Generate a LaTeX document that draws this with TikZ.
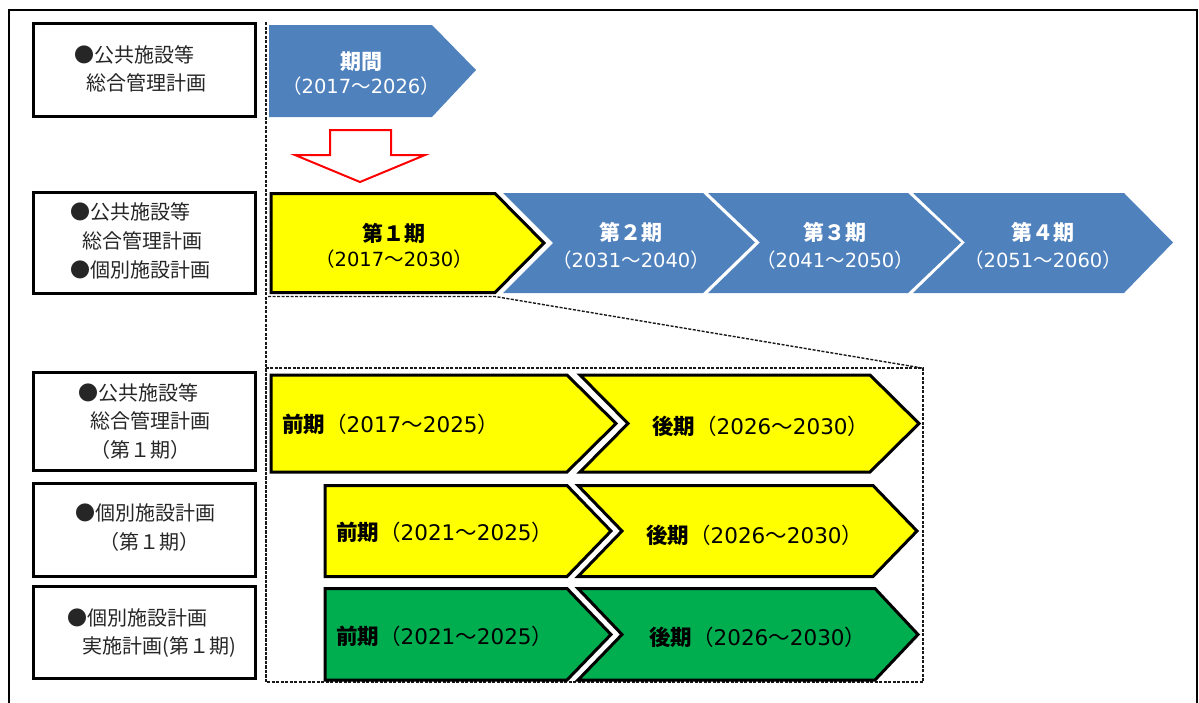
\documentclass[tikz,border=0pt]{standalone}
\usepackage{fontspec}
\newfontfamily\jp{Noto Sans CJK JP}
\newfontfamily\dv{DejaVu Sans}
\newcommand\yrs[2]{{\jp （}{\dv #1}{\jp ～}{\dv #2}{\jp ）}}
\definecolor{ablue}{HTML}{4F81BD}
\definecolor{ayellow}{HTML}{FFFF00}
\definecolor{agreen}{HTML}{00AE50}
\tikzset{
  labelbox/.style={draw=black, line width=3pt, fill=white, minimum width=222pt, inner sep=0pt},
  boxtxt/.style={font=\jp\fontsize{20}{24}\selectfont, text=black!85, inner sep=0pt},
  bluefill/.style={fill=ablue, draw=none},
  yelshape/.style={fill=ayellow, draw=black, line width=3pt, line join=miter},
  grnshape/.style={fill=agreen, draw=black, line width=3pt, line join=miter},
  ttl/.style={font=\jp\bfseries\fontsize{21}{24}\selectfont, inner sep=0pt},
  yr/.style={font=\fontsize{19.5}{24}\selectfont, inner sep=0pt},
  rowtxt/.style={font=\fontsize{21.5}{24}\selectfont, inner sep=0pt, anchor=west},
  dashline/.style={draw=black!90, line width=1.4pt, dash pattern=on 3pt off 1.5pt},
}
\begin{document}
\begin{tikzpicture}[x=1pt,y=-1pt]
\useasboundingbox (0,0) rectangle (1199,702);
% outer frame
\draw[line width=2.5pt] (9,706) -- (9,10) -- (1197,10) -- (1197,706);

% label boxes
\node[labelbox, minimum height=93pt] (b1) at (144.5,70) {};
\node[labelbox, minimum height=101pt] (b2) at (144.5,243) {};
\node[labelbox, minimum height=98pt] (b3) at (144.5,421.5) {};
\node[labelbox, minimum height=93pt] (b4) at (144.5,530) {};
\node[labelbox, minimum height=92pt] (b5) at (144.5,632.5) {};

\node[boxtxt] (b1a) at (134,55) {●公共施設等};
\node[boxtxt] (b1b) at (146,83) {総合管理計画};
\node[boxtxt] (b2a) at (130,212) {●公共施設等};
\node[boxtxt] (b2b) at (142,241) {総合管理計画};
\node[boxtxt] (b2c) at (140,270) {●個別施設計画};
\node[boxtxt] (b3a) at (138,393) {●公共施設等};
\node[boxtxt] (b3b) at (150,421) {総合管理計画};
\node[boxtxt] (b3c) at (140,450) {（第１期）};
\node[boxtxt] (b4a) at (145,513) {●個別施設計画};
\node[boxtxt] (b4b) at (149,542) {（第１期）};
\node[boxtxt] (b5a) at (137,618) {●個別施設計画};
\node[boxtxt] (b5b) at (159,647) {実施計画(第１期)};

% dashed guide lines
\draw[dashline] (266,22) -- (266,682);
\draw[dashline] (268,296.5) -- (495,296.5) -- (922,368);
\draw[dashline] (266,368) rectangle (923,682);

% top period arrow
\fill[bluefill] (269,25) -- (432,25) -- (476,70) -- (432,117) -- (269,117) -- cycle;
\node[ttl, text=white] (p0a) at (361,62) {期間};
\node[yr, text=white] (p0b) at (361,86) {\yrs{2017}{2026}};

% red down arrow
\draw[draw=red, line width=2pt, fill=white, line join=miter]
  (330,130) -- (391,130) -- (391,155) -- (425,155) -- (360,182) -- (295,155) -- (330,155) -- cycle;

% second row
\fill[bluefill] (503,193) -- (703,193) -- (755,242.5) -- (703,293) -- (503,293) -- (553,243) -- cycle;
\fill[bluefill] (708,193) -- (908,193) -- (961,242.5) -- (908,293) -- (708,293) -- (760,242.5) -- cycle;
\fill[bluefill] (913,193) -- (1124,193) -- (1173,242.5) -- (1124,293) -- (913,293) -- (965,242.5) -- cycle;
\draw[yelshape] (271,193.5) -- (495,193.5) -- (544,243) -- (495,292.5) -- (271,292.5) -- cycle;

\node[ttl] (p1a) at (394,233) {第１期};
\node[yr] (p1b) at (394,259) {\yrs{2017}{2030}};
\node[ttl, text=white] (p2a) at (631,232) {第２期};
\node[yr, text=white] (p2b) at (631,260) {\yrs{2031}{2040}};
\node[ttl, text=white] (p3a) at (835,232) {第３期};
\node[yr, text=white] (p3b) at (835,260) {\yrs{2041}{2050}};
\node[ttl, text=white] (p4a) at (1043,232) {第４期};
\node[yr, text=white] (p4b) at (1043,260) {\yrs{2051}{2060}};

% bottom rows
\draw[yelshape] (271,375) -- (567,375) -- (616,423.5) -- (567,472) -- (271,472) -- cycle;
\draw[yelshape] (580,375) -- (870,375) -- (919,423.5) -- (870,472) -- (580,472) -- (628,423.5) -- cycle;
\draw[yelshape] (325,485.5) -- (567,485.5) -- (611,531) -- (567,576.5) -- (325,576.5) -- cycle;
\draw[yelshape] (578,485.5) -- (873,485.5) -- (917,531) -- (873,576.5) -- (578,576.5) -- (622,531) -- cycle;
\draw[grnshape] (325,588.5) -- (567,588.5) -- (611,634.5) -- (567,680) -- (325,680) -- cycle;
\draw[grnshape] (578,588.5) -- (875,588.5) -- (918,634.5) -- (875,680) -- (578,680) -- (622,634.5) -- cycle;

\node[rowtxt] (r1a) at (282,424) {{\jp\bfseries 前期}\yrs{2017}{2025}};
\node[rowtxt] (r1b) at (652,426) {{\jp\bfseries 後期}\yrs{2026}{2030}};
\node[rowtxt] (r2a) at (336,532) {{\jp\bfseries 前期}\yrs{2021}{2025}};
\node[rowtxt] (r2b) at (646,535) {{\jp\bfseries 後期}\yrs{2026}{2030}};
\node[rowtxt] (r3a) at (336,636) {{\jp\bfseries 前期}\yrs{2021}{2025}};
\node[rowtxt] (r3b) at (649,637) {{\jp\bfseries 後期}\yrs{2026}{2030}};
\end{tikzpicture}
\end{document}
